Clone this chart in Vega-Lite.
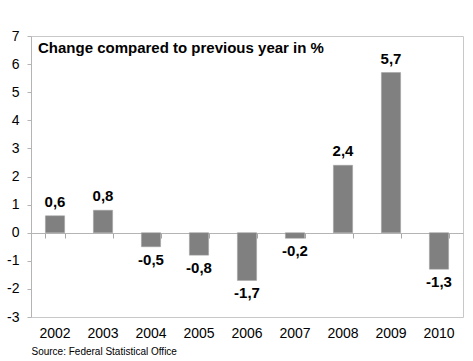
{
  "$schema": "https://vega.github.io/schema/vega-lite/v6.json",
  "width": 432,
  "height": 281,
  "autosize": "none",
  "padding": {"left": 31, "top": 36, "right": 10, "bottom": 44},
  "background": "white",
  "config": {
    "font": "Liberation Sans",
    "locale": {"number": {"decimal": ",", "thousands": ".", "grouping": [3], "currency": ["", " €"], "minus": "-"}},
    "view": {"stroke": "#c8c8c8", "strokeWidth": 1}
  },
  "title": {
    "text": "Change compared to previous year in %",
    "anchor": "start",
    "frame": "group",
    "orient": "top",
    "offset": -27,
    "dx": 7,
    "fontSize": 15,
    "fontWeight": "bold",
    "color": "black"
  },
  "data": {
    "values": [
      {"year": "2002", "change": 0.6},
      {"year": "2003", "change": 0.8},
      {"year": "2004", "change": -0.5},
      {"year": "2005", "change": -0.8},
      {"year": "2006", "change": -1.7},
      {"year": "2007", "change": -0.2},
      {"year": "2008", "change": 2.4},
      {"year": "2009", "change": 5.7},
      {"year": "2010", "change": -1.3}
    ]
  },
  "encoding": {
    "y": {
      "field": "change",
      "type": "quantitative",
      "scale": {"domain": [-3, 7], "nice": false},
      "axis": {
        "title": null,
        "values": [-3, -2, -1, 0, 1, 2, 3, 4, 5, 6, 7],
        "format": "d",
        "grid": false,
        "labelOverlap": false,
        "labelFontSize": 14,
        "labelColor": "black",
        "labelPadding": 8,
        "tickSize": 4,
        "tickColor": "#b4b4b4",
        "domainColor": "#b4b4b4"
      }
    }
  },
  "resolve": {"axis": {"x": "independent"}},
  "layer": [
    {
      "mark": {"type": "bar", "color": "#808080", "stroke": "#a0a0a0", "strokeWidth": 0.5},
      "encoding": {
        "x": {
          "field": "year",
          "type": "nominal",
          "sort": null,
          "scale": {"paddingInner": 0.6, "paddingOuter": 0.3},
          "axis": {
            "orient": "bottom",
            "offset": -84,
            "title": null,
            "labels": false,
            "domain": true,
            "domainColor": "#b4b4b4",
            "ticks": true,
            "tickBand": "extent",
            "tickSize": 5,
            "tickWidth": 1,
            "tickColor": "#a8a8a8"
          }
        },
        "y2": {"datum": 0}
      }
    },
    {
      "transform": [{"filter": "datum.change >= 0"}],
      "mark": {"type": "text", "fontSize": 15, "fontWeight": "bold", "color": "black", "baseline": "bottom", "dy": -6},
      "encoding": {
        "x": {"field": "year", "type": "nominal", "sort": null, "axis": null},
        "text": {"field": "change", "type": "quantitative", "format": ".1f"}
      }
    },
    {
      "transform": [{"filter": "datum.change < 0"}],
      "mark": {"type": "text", "fontSize": 15, "fontWeight": "bold", "color": "black", "baseline": "top", "dy": 6},
      "encoding": {
        "x": {
          "field": "year",
          "type": "nominal",
          "sort": null,
          "axis": {
            "orient": "bottom",
            "title": "Source: Federal Statistical Office",
            "titleAnchor": "start",
            "titleAlign": "left",
            "titleFontSize": 10,
            "titleFontWeight": "normal",
            "titleColor": "black",
            "titlePadding": 6,
            "labelAngle": 0,
            "labelFontSize": 14,
            "labelColor": "black",
            "labelPadding": 9,
            "domain": false,
            "ticks": false
          }
        },
        "text": {"field": "change", "type": "quantitative", "format": ".1f"}
      }
    }
  ]
}
